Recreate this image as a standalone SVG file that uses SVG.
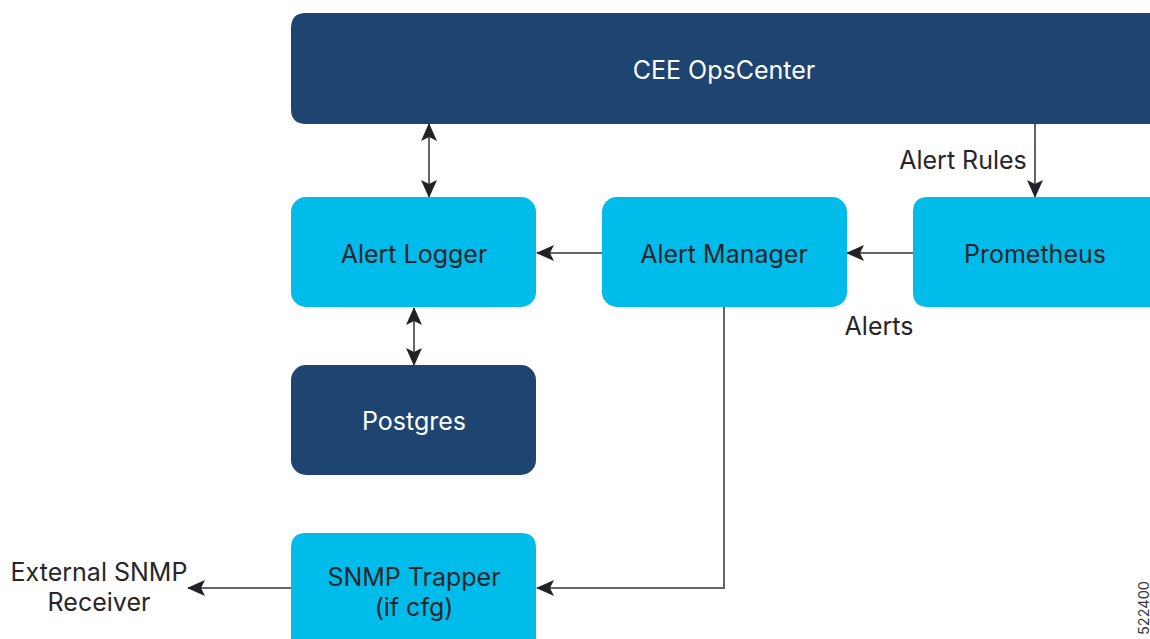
<svg xmlns="http://www.w3.org/2000/svg" width="1150" height="639" viewBox="0 0 1150 639">
<style>
text{font-family:"Inter","Liberation Sans",sans-serif;font-size:25px;text-anchor:middle;fill:#26262a}
.w{fill:#fff}.d{fill:#1e4471}.l{fill:#00bceb}
.c{fill:none;stroke:#66666a;stroke-width:2}
</style>
<defs>
<marker id="a" viewBox="0 0 18 16" refX="17" refY="8" markerWidth="18" markerHeight="16" markerUnits="userSpaceOnUse" orient="auto-start-reverse"><path d="M0 0L18 8L0 16L4 8Z" fill="#222226"/></marker>
</defs>
<rect width="1150" height="639" fill="#fff"/>
<g id="connectors">
<path class="c" d="M429 124V197" marker-start="url(#a)" marker-end="url(#a)"/>
<path class="c" d="M414 308V365" marker-start="url(#a)" marker-end="url(#a)"/>
<path class="c" d="M1035 124V197" marker-end="url(#a)"/>
<path class="c" d="M602 253H537" marker-end="url(#a)"/>
<path class="c" d="M913 253H847" marker-end="url(#a)"/>
<path class="c" d="M724 307V588H537" marker-end="url(#a)"/>
<path class="c" d="M291 588H188" marker-end="url(#a)"/>
</g>
<g id="cee"><path class="d" d="M306 13H1150V124H306Q291 124 291 109V28Q291 13 306 13Z"/><text class="w" x="724" y="78.5">CEE OpsCenter</text></g>
<g id="logger"><rect class="l" x="291" y="197" width="245" height="110" rx="15"/><text x="414" y="262.5">Alert Logger</text></g>
<g id="manager"><rect class="l" x="602" y="197" width="245" height="110" rx="15"/><text x="724" y="262.5">Alert Manager</text></g>
<g id="prometheus"><path class="l" d="M928 197H1150V307H928Q913 307 913 292V212Q913 197 928 197Z"/><text x="1035" y="262.5">Prometheus</text></g>
<g id="postgres"><rect class="d" x="291" y="365" width="245" height="110" rx="15"/><text class="w" x="414" y="429.5">Postgres</text></g>
<g id="snmp"><path class="l" d="M306 533H521Q536 533 536 548V639H291V548Q291 533 306 533Z"/><text x="414" y="586">SNMP Trapper</text><text x="414" y="616">(if cfg)</text></g>
<g id="labels">
<text x="963" y="169">Alert Rules</text>
<text x="879" y="335">Alerts</text>
<text x="99" y="580.5">External SNMP</text>
<text x="99" y="610.5">Receiver</text>
<text transform="translate(1149 608) rotate(-90)" style="font-size:14.5px;fill:#39393b">522400</text>
</g>
</svg>
